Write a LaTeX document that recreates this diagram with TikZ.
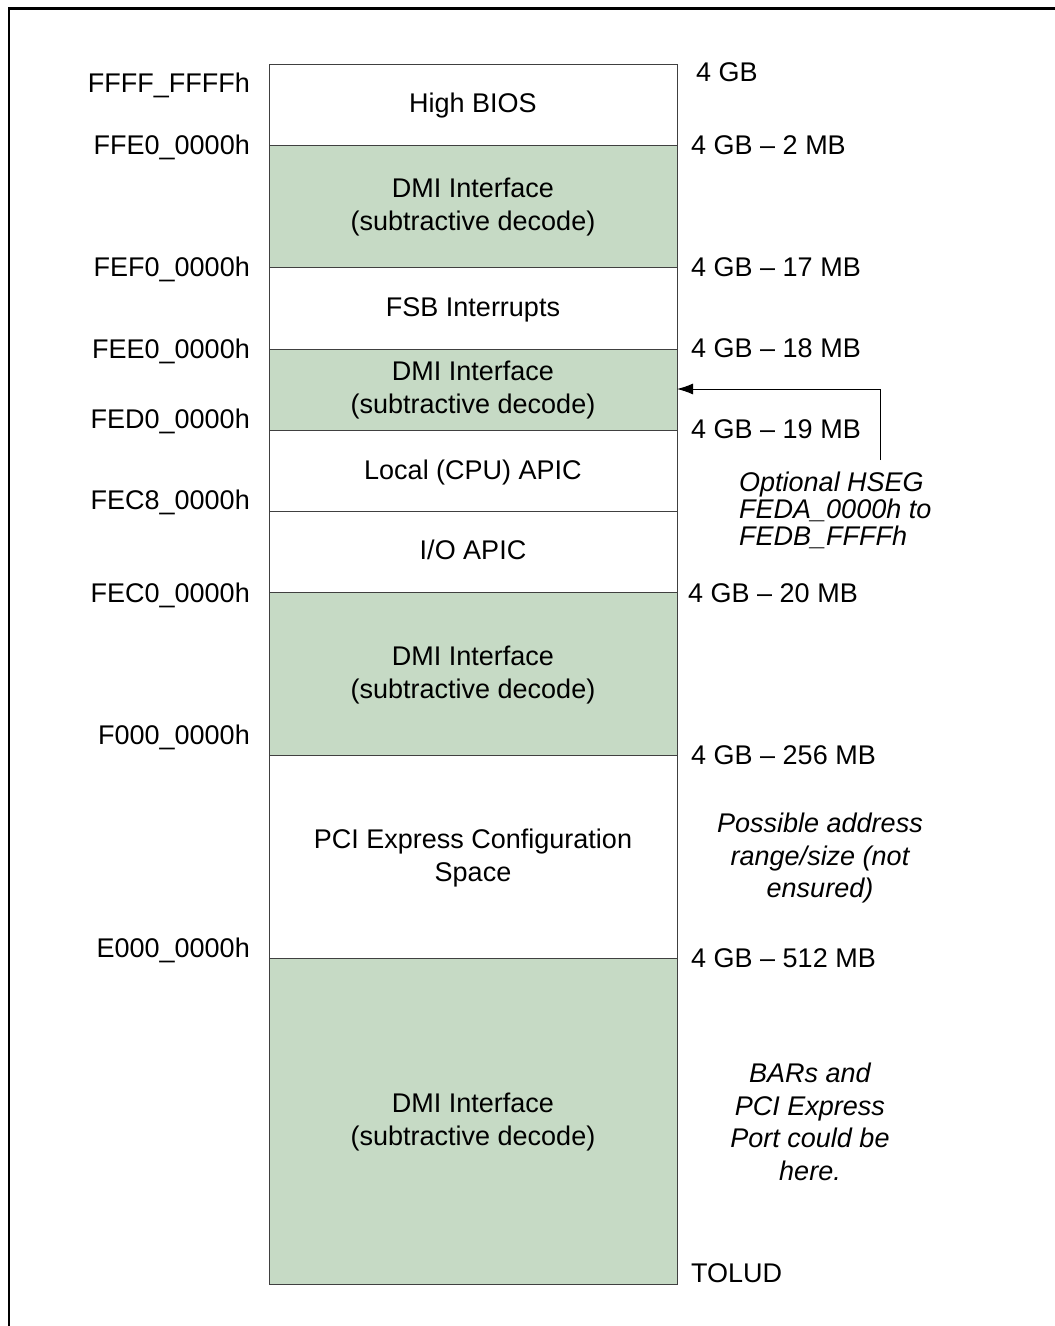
\documentclass[tikz,border=0pt]{standalone}
\usepackage{fontspec}
\setmainfont{Liberation Sans}
\usetikzlibrary{arrows.meta}
\definecolor{dmigreen}{RGB}{198,218,197}
\tikzset{
  region/.style={draw=black!75, line width=1pt},
  dmi/.style={region, fill=dmigreen},
  txt/.style={inner sep=0pt, text height=19.5pt, text depth=0pt},
  addr/.style={txt, anchor=east},
  size/.style={txt, anchor=west},
  twoline/.style={inner sep=0pt, align=center},
  note/.style={inner sep=0pt, font=\fontsize{27}{32.5}\selectfont\itshape},
}
\begin{document}
\begin{tikzpicture}[x=1pt,y=-1pt,font=\fontsize{27}{33}\selectfont]
\useasboundingbox (0,0) rectangle (1055,1326);
% frame
\draw[line width=2.8pt] (9,1330) -- (9,8.5) -- (1060,8.5);
% regions of the map
\draw[region] (269,64) rectangle (677,145);
\draw[dmi] (269,145) rectangle (677,267);
\draw[region] (269,267) rectangle (677,349);
\draw[dmi] (269,349) rectangle (677,430);
\draw[region] (269,430) rectangle (677,511);
\draw[region] (269,511) rectangle (677,592);
\draw[dmi] (269,592) rectangle (677,755);
\draw[region] (269,755) rectangle (677,958);
\draw[dmi] (269,958) rectangle (677,1284);
% region names
\node[txt] (hibios) at (473,103) {High BIOS};
\node[twoline] (dmiA) at (473,207) {DMI Interface\\(subtractive decode)};
\node[txt] (fsb) at (473,307) {FSB Interrupts};
\node[twoline] (dmiB) at (473,390) {DMI Interface\\(subtractive decode)};
\node[txt] (lapic) at (473,470) {Local (CPU) APIC};
\node[txt] (ioapic) at (473,550) {I/O APIC};
\node[twoline] (dmiC) at (473,675) {DMI Interface\\(subtractive decode)};
\node[twoline] (pcie) at (473,858) {PCI Express Configuration\\Space};
\node[twoline] (dmiD) at (473,1122) {DMI Interface\\(subtractive decode)};
% addresses
\node[addr] (aFFFF) at (250,83) {FFFF\_FFFFh};
\node[addr] (aFFE0) at (250,145) {FFE0\_0000h};
\node[addr] (aFEF0) at (250,267) {FEF0\_0000h};
\node[addr] (aFEE0) at (250,349) {FEE0\_0000h};
\node[addr] (aFED0) at (250,419) {FED0\_0000h};
\node[addr] (aFEC8) at (250,500) {FEC8\_0000h};
\node[addr] (aFEC0) at (250,593) {FEC0\_0000h};
\node[addr] (aF000) at (250,735) {F000\_0000h};
\node[addr] (aE000) at (250,948) {E000\_0000h};
% sizes
\node[size] (s4G) at (696,72) {4 GB};
\node[size] (s2M) at (691,145) {4 GB – 2 MB};
\node[size] (s17M) at (691,267) {4 GB – 17 MB};
\node[size] (s18M) at (691,348) {4 GB – 18 MB};
\node[size] (s19M) at (691,429) {4 GB – 19 MB};
\node[size] (s20M) at (688,593) {4 GB – 20 MB};
\node[size] (s256M) at (691,755) {4 GB – 256 MB};
\node[size] (s512M) at (691,958) {4 GB – 512 MB};
\node[size] (tolud) at (691,1273) {TOLUD};
% notes
\node[note, align=left, anchor=north west, font=\fontsize{27}{27}\selectfont\itshape] (hseg) at (739,472) {Optional HSEG\\FEDA\_0000h to\\FEDB\_FFFFh};
\node[note, align=center] (possible) at (820,858) {Possible address\\range/size (not\\ensured)};
\node[note, align=center] (bars) at (810,1122) {BARs and\\PCI Express\\Port could be\\here.};
\coordinate (hsegtop) at (880,460);
\coordinate (hsegin) at (677,389);
\draw[line width=1pt, -{Latex[length=16pt,width=11pt]}] (hsegtop) |- (hsegin);
\end{tikzpicture}
\end{document}
